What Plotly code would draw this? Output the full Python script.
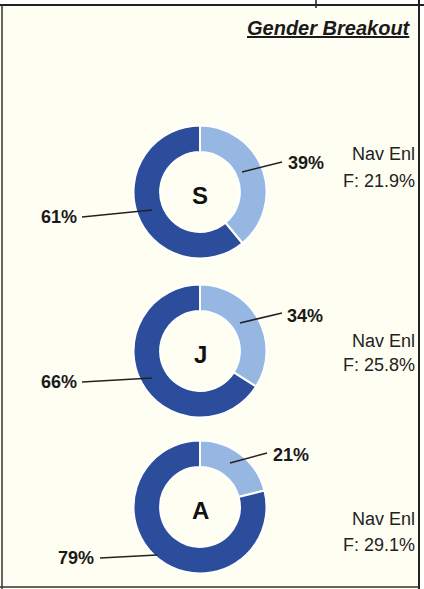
import plotly.graph_objects as go

# ---- data ----
classes = ["S", "J", "A"]
female_pct = [39, 34, 21]
male_pct = [61, 66, 79]
nav_enl_female = [21.9, 25.8, 29.1]
title_text = "Gender Breakout"

W, H = 424, 589


def px(x):
    return x / W


def py(y):
    return 1 - y / H


FONT = "Liberation Sans, Arial, sans-serif"
LIGHT = "#96b7e2"
DARK = "#2c4c9c"

centers_y = [192, 351, 507]
cx = 200
diam = 133

fig = go.Figure()
for i, cls in enumerate(classes):
    cy = centers_y[i]
    fig.add_trace(go.Pie(
        values=[female_pct[i], male_pct[i]],
        labels=["Female", "Male"],
        hole=0.6,
        sort=False,
        direction="clockwise",
        rotation=0,
        textinfo="none",
        hoverinfo="label+percent",
        marker=dict(colors=[LIGHT, DARK], line=dict(color="white", width=2)),
        domain=dict(x=[px(cx - diam / 2), px(cx + diam / 2)],
                    y=[py(cy + diam / 2), py(cy - diam / 2)]),
        showlegend=False,
    ))

annotations = []
shapes = []

# title
annotations.append(dict(x=px(413), y=py(28), xref="paper", yref="paper",
                        xanchor="right", yanchor="middle", showarrow=False,
                        text="<b><i><u>" + title_text + "</u></i></b>",
                        font=dict(family=FONT, size=20, color="#1a1a1a")))

# label layout (pixel positions of leader lines and texts)
fem_line = [((242, 172), (282, 162)), ((240, 323), (282, 313)), ((230, 463), (267, 453))]
fem_text = [(286, 163), (285, 316), (271, 455)]
male_line = [((82, 217), (152, 210)), ((82, 382), (152, 378)), ((100, 558), (157, 555))]
male_text = [(79, 217), (79, 382), (96, 558)]
nav_y = [(154, 181), (341, 365), (519, 545)]

for i, cls in enumerate(classes):
    cy = centers_y[i]
    # center letter
    annotations.append(dict(x=px(cx), y=py(cy + 3), xref="paper", yref="paper",
                            xanchor="center", yanchor="middle",
                            showarrow=False, text="<b>" + cls + "</b>",
                            font=dict(family=FONT, size=24, color="#111")))
    # female label
    (x0, y0), (x1, y1) = fem_line[i]
    shapes.append(dict(type="line", xref="paper", yref="paper",
                       x0=px(x0), y0=py(y0), x1=px(x1), y1=py(y1),
                       line=dict(color="#222", width=1.6)))
    tx, ty = fem_text[i]
    annotations.append(dict(x=px(tx), y=py(ty), xref="paper", yref="paper",
                            xanchor="left", yanchor="middle", showarrow=False,
                            text="<b>%d%%</b>" % female_pct[i],
                            font=dict(family=FONT, size=18, color="#1a1a1a")))
    # male label
    (x0, y0), (x1, y1) = male_line[i]
    shapes.append(dict(type="line", xref="paper", yref="paper",
                       x0=px(x0), y0=py(y0), x1=px(x1), y1=py(y1),
                       line=dict(color="#222", width=1.6)))
    tx, ty = male_text[i]
    annotations.append(dict(x=px(tx), y=py(ty), xref="paper", yref="paper",
                            xanchor="right", yanchor="middle", showarrow=False,
                            text="<b>%d%%</b>" % male_pct[i],
                            font=dict(family=FONT, size=18, color="#1a1a1a")))
    # Nav Enl text
    y_a, y_b = nav_y[i]
    annotations.append(dict(x=px(417), y=py(y_a), xref="paper", yref="paper",
                            xanchor="right", yanchor="middle", showarrow=False,
                            text="Nav Enl",
                            font=dict(family=FONT, size=18, color="#222")))
    annotations.append(dict(x=px(417), y=py(y_b), xref="paper", yref="paper",
                            xanchor="right", yanchor="middle", showarrow=False,
                            text="F: %.1f%%" % nav_enl_female[i],
                            font=dict(family=FONT, size=18, color="#222")))

# frame
shapes += [
    dict(type="rect", xref="paper", yref="paper", x0=px(419), x1=1, y0=0, y1=1,
         fillcolor="white", line=dict(width=0), layer="below"),
    dict(type="rect", xref="paper", yref="paper", x0=0, x1=1, y0=py(5), y1=1,
         fillcolor="white", line=dict(width=0), layer="below"),
    dict(type="line", xref="paper", yref="paper", x0=0, x1=1, y0=py(5), y1=py(5),
         line=dict(color="#222", width=2)),
    dict(type="line", xref="paper", yref="paper", x0=px(2), x1=px(2), y0=py(5), y1=0,
         line=dict(color="#333", width=1.5)),
    dict(type="line", xref="paper", yref="paper", x0=px(419), x1=px(419), y0=1, y1=0,
         line=dict(color="#222", width=2)),
    dict(type="line", xref="paper", yref="paper", x0=px(316), x1=px(316), y0=1, y1=py(8),
         line=dict(color="#222", width=1.5)),
    dict(type="line", xref="paper", yref="paper", x0=0, x1=px(419), y0=py(587), y1=py(587),
         line=dict(color="#333", width=1.5)),
]

fig.update_layout(
    width=W, height=H,
    margin=dict(l=0, r=0, t=0, b=0),
    paper_bgcolor="#fffef3",
    plot_bgcolor="#fffef3",
    annotations=annotations,
    shapes=shapes,
)

fig.write_html("out.html",
               config={"displayModeBar": False},
               post_script="document.body.style.margin='0';document.body.style.overflow='hidden';")
